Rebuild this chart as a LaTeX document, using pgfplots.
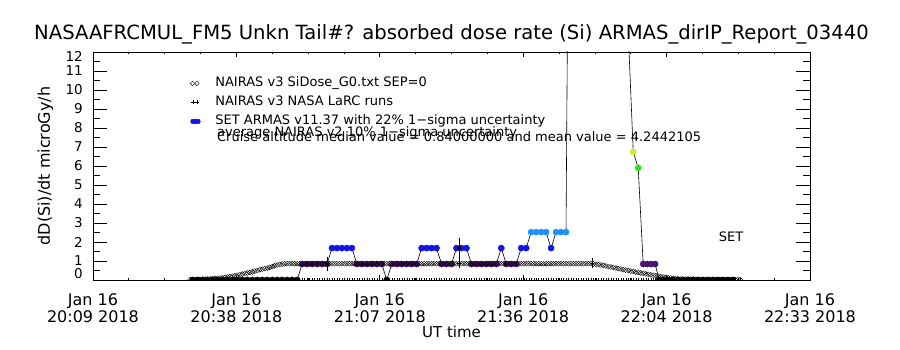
\documentclass[border=0pt]{standalone}
\usepackage{fontspec}
\setmainfont{DejaVu Sans}
\usepackage{graphicx}
\usepackage{pgfplots}
\usepackage{pgfplotstable}
\pgfplotsset{compat=1.18}
\definecolor{cpurple}{RGB}{75,18,110}
\definecolor{cblue}{RGB}{20,20,230}
\definecolor{clblue}{RGB}{30,144,255}
\definecolor{cgreen}{RGB}{40,230,40}
\definecolor{cyg}{RGB}{200,240,50}
\definecolor{chigh}{RGB}{230,30,30}

% ARMAS dose rate, minutes after 20:09:36 UT
\pgfplotstableread[row sep=\\]{
m v c\\
20 0 k\\ 21 0 k\\ 22 0 k\\ 23 0 k\\ 24 0 k\\ 25 0 k\\ 26 0 k\\ 27 0 k\\ 28 0 k\\ 29 0 k\\ 30 0 k\\
31 0 k\\ 32 0 k\\ 33 0 k\\ 34 0 k\\ 35 0 k\\ 36 0 k\\ 37 0 k\\ 38 0 k\\ 39 0 k\\ 40 0 k\\ 41 0 k\\
42 0.84 p\\ 43 0.84 p\\ 44 0.84 p\\ 45 0.84 p\\ 46 0.84 p\\ 47 0.84 p\\
48 1.68 b\\ 49 1.68 b\\ 50 1.68 b\\ 51 1.68 b\\ 52 1.68 b\\
53 0.84 p\\ 54 0.84 p\\ 55 0.84 p\\ 56 0.84 p\\ 57 0.84 p\\ 58 0.84 p\\
59 0 k\\
60 0.84 p\\ 61 0.84 p\\ 62 0.84 p\\ 63 0.84 p\\ 64 0.84 p\\ 65 0.84 p\\
66 1.68 b\\ 67 1.68 b\\ 68 1.68 b\\ 69 1.68 b\\
70 0.84 p\\ 71 0.84 p\\ 72 0.84 p\\
73 1.68 b\\ 74 1.68 b\\ 75 1.68 b\\
76 0.84 p\\ 77 0.84 p\\ 78 0.84 p\\ 79 0.84 p\\ 80 0.84 p\\ 81 0.84 p\\
82 1.68 b\\
83 0.84 p\\ 84 0.84 p\\ 85 0.84 p\\
86 1.68 b\\ 87 1.68 b\\
88 2.52 l\\ 89 2.52 l\\ 90 2.52 l\\ 91 2.52 l\\
92 1.68 b\\
93 2.52 l\\ 94 2.52 l\\ 95 2.52 l\\
96 40 h\\ 97 18 h\\ 98 20 h\\ 99 17 h\\ 100 16 h\\ 101 15 h\\ 102 18 h\\ 103 16 h\\ 104 14 h\\ 105 15 h\\ 106 14 h\\
107.5 13 h\\
108.5 6.74 y\\
109.5 5.9 g\\
110.5 0.84 p\\ 111.3 0.84 p\\ 112.1 0.84 p\\ 112.9 0.84 p\\
113.7 0 k\\ 114.5 0 k\\ 115.5 0 k\\ 116.5 0 k\\ 117.5 0 k\\ 118.5 0 k\\ 119.5 0 k\\ 120.5 0 k\\
121.5 0 k\\ 122.5 0 k\\ 123.5 0 k\\ 124.5 0 k\\ 125.5 0 k\\ 126.5 0 k\\ 127.5 0 k\\ 128.5 0 k\\
}\armas

% NAIRAS v3 SiDose, minutes after 20:09:36 UT
\pgfplotstableread[row sep=\\]{
m v z\\
19.5 0.01 0\\ 20 0.02 0\\ 20.5 0.02 0\\ 21 0.03 0\\ 21.5 0.03 0\\ 22 0.04 0\\ 22.5 0.05 0\\ 23 0.05 0\\
23.5 0.06 0\\ 24 0.07 0\\ 24.5 0.08 0\\ 25 0.09 0\\ 25.5 0.10 0\\ 26 0.12 0\\ 26.5 0.14 0\\ 27 0.16 0\\
27.5 0.18 0\\ 28 0.20 0\\ 28.5 0.22 0\\ 29 0.25 0\\ 29.5 0.28 0\\ 30 0.31 0\\ 30.5 0.34 0\\ 31 0.37 0\\
31.5 0.40 0\\ 32 0.43 0\\ 32.5 0.47 0\\ 33 0.50 0\\ 33.5 0.54 0\\ 34 0.57 0\\ 34.5 0.60 0\\ 35 0.63 0\\
35.5 0.67 0\\ 36 0.71 0\\ 36.5 0.75 0\\ 37 0.79 0\\ 37.5 0.82 0\\ 38 0.84 0\\ 38.5 0.85 0\\ 39 0.86 0\\
39.5 0.86 0\\ 40 0.86 0\\ 40.5 0.86 0\\ 41 0.86 0\\ 41.5 0.86 0\\ 42 0.86 0\\ 42.5 0.86 0\\ 43 0.86 0\\
43.5 0.86 0\\ 44 0.86 0\\ 44.5 0.86 0\\ 45 0.86 0\\ 45.5 0.86 0\\ 46 0.86 0\\ 46.5 0.86 0\\ 47 0.86 0\\
47.5 0.86 0\\ 48 0.86 0\\ 48.5 0.86 0\\ 49 0.86 0\\ 49.5 0.86 0\\ 50 0.86 0\\ 50.5 0.86 0\\ 51 0.86 0\\
51.5 0.86 0\\ 52 0.86 0\\ 52.5 0.86 0\\ 53 0.86 0\\ 53.5 0.86 0\\ 54 0.86 0\\ 54.5 0.86 0\\ 55 0.86 0\\
55.5 0.86 0\\ 56 0.86 0\\ 56.5 0.86 0\\ 57 0.86 0\\ 57.5 0.86 0\\ 58 0.86 0\\ 58.5 0.86 0\\ 59 0.86 0\\
59.5 0.86 0\\ 60 0.86 0\\ 60.5 0.86 0\\ 61 0.86 0\\ 61.5 0.86 0\\ 62 0.86 0\\ 62.5 0.86 0\\ 63 0.86 0\\
63.5 0.86 0\\ 64 0.86 0\\ 64.5 0.86 0\\ 65 0.86 0\\ 65.5 0.86 0\\ 66 0.86 0\\ 66.5 0.86 0\\ 67 0.86 0\\
67.5 0.86 0\\ 68 0.86 0\\ 68.5 0.86 0\\ 69 0.86 0\\ 69.5 0.86 0\\ 70 0.86 0\\ 70.5 0.86 0\\ 71 0.86 0\\
71.5 0.86 0\\ 72 0.86 0\\ 72.5 0.86 0\\ 73 0.86 0\\ 73.5 0.86 0\\ 74 0.86 0\\ 74.5 0.86 0\\ 75 0.86 0\\
75.5 0.86 0\\ 76 0.86 0\\ 76.5 0.86 0\\ 77 0.86 0\\ 77.5 0.86 0\\ 78 0.86 0\\ 78.5 0.86 0\\ 79 0.86 0\\
79.5 0.86 0\\ 80 0.86 0\\ 80.5 0.86 0\\ 81 0.86 0\\ 81.5 0.86 0\\ 82 0.86 0\\ 82.5 0.86 0\\ 83 0.86 0\\
83.5 0.86 0\\ 84 0.86 0\\ 84.5 0.86 0\\ 85 0.86 0\\ 85.5 0.86 0\\ 86 0.86 0\\ 86.5 0.86 0\\ 87 0.86 0\\
87.5 0.86 0\\ 88 0.86 0\\ 88.5 0.86 0\\ 89 0.86 0\\ 89.5 0.86 0\\ 90 0.86 0\\ 90.5 0.86 0\\ 91 0.86 0\\
91.5 0.86 0\\ 92 0.86 0\\ 92.5 0.86 0\\ 93 0.86 0\\ 93.5 0.86 0\\ 94 0.86 0\\ 94.5 0.86 0\\ 95 0.86 0\\
95.5 0.86 0\\ 96 0.86 0\\ 96.5 0.86 0\\ 97 0.86 0\\ 97.5 0.86 0\\ 98 0.86 0\\ 98.5 0.86 0\\ 99 0.86 0\\
99.5 0.86 0\\ 100 0.86 0\\ 100.5 0.85 0\\ 101 0.83 0\\ 101.5 0.81 0\\ 102 0.79 0\\ 102.5 0.77 0\\ 103 0.74 0\\
103.5 0.71 0\\ 104 0.68 0\\ 104.5 0.66 0\\ 105 0.63 0\\ 105.5 0.60 0\\ 106 0.58 0\\ 106.5 0.55 0\\ 107 0.52 0\\
107.5 0.50 0\\ 108 0.47 0\\ 108.5 0.45 0\\ 109 0.42 0\\ 109.5 0.40 0\\ 110 0.37 0\\ 110.5 0.35 0\\ 111 0.32 0\\
111.5 0.30 0\\ 112 0.28 0\\ 112.5 0.25 0\\ 113 0.23 0\\ 113.5 0.20 0\\ 114 0.18 0\\ 114.5 0.16 0\\ 115 0.14 0\\
115.5 0.12 0\\ 116 0.10 0\\ 116.5 0.09 0\\ 117 0.07 0\\ 117.5 0.06 0\\ 118 0.05 0\\ 118.5 0.05 0\\ 119 0.04 0\\
119.5 0.04 0\\ 120 0.04 0\\ 120.5 0.04 0\\ 121 0.03 0\\ 121.5 0.03 0\\ 122 0.03 0\\ 122.5 0.03 0\\ 123 0.03 0\\
123.5 0.03 0\\ 124 0.03 0\\ 124.5 0.02 0\\ 125 0.02 0\\ 125.5 0.02 0\\ 126 0.02 0\\ 126.5 0.02 0\\ 127 0.02 0\\
127.5 0.02 0\\ 128 0.02 0\\ 128.5 0.02 0\\ 129 0.02 0\\ 129.5 0.02 0\\ 130 0.02 0\\
}\nairas

\begin{document}
\begin{tikzpicture}
\begin{axis}[
  at={(0,0)}, anchor=south west,
  scale only axis, width=717pt, height=228pt,
  xmin=0, xmax=144, ymin=0, ymax=12,
  axis line style={black, line width=0.8pt},
  tick style={black, line width=0.8pt},
  tick align=inside,
  major tick length=14.3pt, minor tick length=7.2pt,
  xtick={0,28.8,57.6,86.4,115.2,144},
  xticklabels={Jan 16\\20:09 2018, Jan 16\\20:38 2018, Jan 16\\21:07 2018, Jan 16\\21:36 2018, Jan 16\\22:04 2018, Jan 16\\22:33 2018},
  xtick style={draw=none},
  xticklabel style={align=center, font=\fontsize{16}{17}\selectfont, inner sep=0pt, anchor=north, yshift=-13pt},
  ytick={0,1,2,3,4,5,6,7,8,9,10,11,12},
  yticklabels={\raisebox{6pt}[\height][\depth]{0},1,2,3,4,5,6,7,8,9,10,11,\raisebox{-4pt}[\height][\depth]{12}},
  minor y tick num=1,
  yticklabel style={font=\fontsize{13.5}{14}\selectfont, inner sep=0pt, anchor=east, xshift=-10pt},
  title={NASAAFRCMUL\_FM5 Unkn Tail\#? absorbed dose rate (Si) ARMAS\_dirIP\_Report\_03440},
  title style={at={([yshift=6pt]axis description cs:0.5,1)}, anchor=base, font=\fontsize{19.6}{20}\selectfont, inner sep=0pt},
  xlabel={UT time},
  xlabel style={at={([yshift=-58pt]axis description cs:0.5,0)}, anchor=base, font=\fontsize{15}{15}\selectfont, inner sep=0pt},
  ylabel={dD(Si)/dt microGy/h},
  ylabel style={at={([xshift=-43pt]axis description cs:0,0.5)}, anchor=base, rotate=0, font=\fontsize{16}{16}\selectfont, inner sep=0pt},
  clip marker paths=true,
  legend style={draw=none, fill=none, at={(axis description cs:0.1353,0.8904)}, anchor=north west,
    inner sep=0pt, row sep=6.5pt, column sep=15pt, font=\fontsize{13}{13}\selectfont,
    nodes={inner sep=0pt, text height=9.5pt, text depth=3pt}},
  legend cell align=left,
]
\addlegendimage{legend image code/.code={\draw[black, line width=0.4pt] plot[only marks, mark=square, mark size=1.6pt, mark options={rotate=45}] coordinates {(2.5pt,0pt) (7pt,0pt)};}}
\addlegendentry{NAIRAS v3 SiDose\_G0.txt SEP=0}
\addlegendimage{legend image code/.code={\draw[black, line width=0.5pt] plot[only marks, mark=+, mark size=2pt] coordinates {(3pt,0pt) (7.5pt,0pt)};}}
\addlegendentry{NAIRAS v3 NASA LaRC runs}
\addlegendimage{legend image code/.code={\draw[cblue, fill=cblue] plot[only marks, mark=*, mark size=2.4pt] coordinates {(3pt,0pt) (5.5pt,0pt) (8pt,0pt)};}}
\addlegendentry{SET ARMAS v11.37 with 22\% 1−sigma uncertainty}

% ARMAS connecting line
\addplot[black, line width=0.6pt, mark=none, forget plot] table[x=m, y=v] {\armas};
% ARMAS points coloured by value
\addplot[scatter, only marks, mark=*, mark size=3.1pt, forget plot,
  scatter src=explicit symbolic,
  scatter/classes={
    k={mark=*, black, fill=black},
    p={mark=*, cpurple, fill=cpurple},
    b={mark=*, cblue, fill=cblue},
    l={mark=*, clblue, fill=clblue},
    g={mark=*, cgreen, fill=cgreen},
    y={mark=*, cyg, fill=cyg},
    h={mark=*, chigh, fill=chigh}}]
  table[x=m, y=v, meta=c] {\armas};
% markers along zero
\addplot[black, only marks, mark=|, mark size=1.5pt, line width=0.3pt, forget plot] table[x=m, y=z] {\nairas};
% NAIRAS model
\addplot[black, only marks, mark=square, mark size=1.75pt, mark options={rotate=45, solid, line width=0.4pt}, forget plot] table[x=m, y=v] {\nairas};
% ARMAS 22% uncertainty
\addplot[black, only marks, mark=none, forget plot,
  error bars/.cd, y dir=both, y explicit, error mark=-, error bar style={line width=0.7pt},
  error mark options={black, mark size=3.5pt, line width=0.7pt}]
  coordinates {(47,0.84) +- (0,0.185) (73.5,1.68) +- (0,0.37)};
% NAIRAS LaRC runs with 10% uncertainty
\addplot[black, only marks, mark=+, mark size=2pt, line width=0.5pt, forget plot,
  error bars/.cd, y dir=both, y explicit, error mark=-, error bar style={line width=0.7pt},
  error mark options={black, mark size=3.5pt, line width=0.7pt}]
  coordinates {(47,0.86) +- (0,0.086) (73.5,0.90) +- (0,0.09) (100.2,0.88) +- (0,0.088)};

\node[anchor=base west, font=\fontsize{13}{13}\selectfont, inner sep=0pt] at (axis description cs:0.1729,0.6272) {average NAIRAS v2 10\% 1−sigma uncertainty};
\node[anchor=base west, font=\fontsize{13}{13}\selectfont, inner sep=0pt] at (axis description cs:0.1729,0.6053) {Cruise altitude median value = 0.84000000 and mean value = 4.2442105};
\node[anchor=center, font=\fontsize{13}{13}\selectfont, inner sep=0pt] at (axis description cs:0.8898,0.1886) {SET};
\end{axis}
\begin{axis}[
  at={(0,0)}, anchor=south west,
  scale only axis, width=717pt, height=228pt,
  xmin=0, xmax=144, ymin=0, ymax=12,
  axis line style={black, line width=0.8pt},
  tick style={black, line width=0.8pt},
  tick align=inside,
  major tick length=4.6pt, minor tick length=2.3pt,
  xtick={0,28.8,57.6,86.4,115.2,144},
  xticklabels={,,,,,},
  minor x tick num=3,
  ytick=\empty,
]
\end{axis}
\pgfresetboundingbox
\useasboundingbox (-93pt,-70pt) rectangle (807pt,280pt);
\end{tikzpicture}
\end{document}
